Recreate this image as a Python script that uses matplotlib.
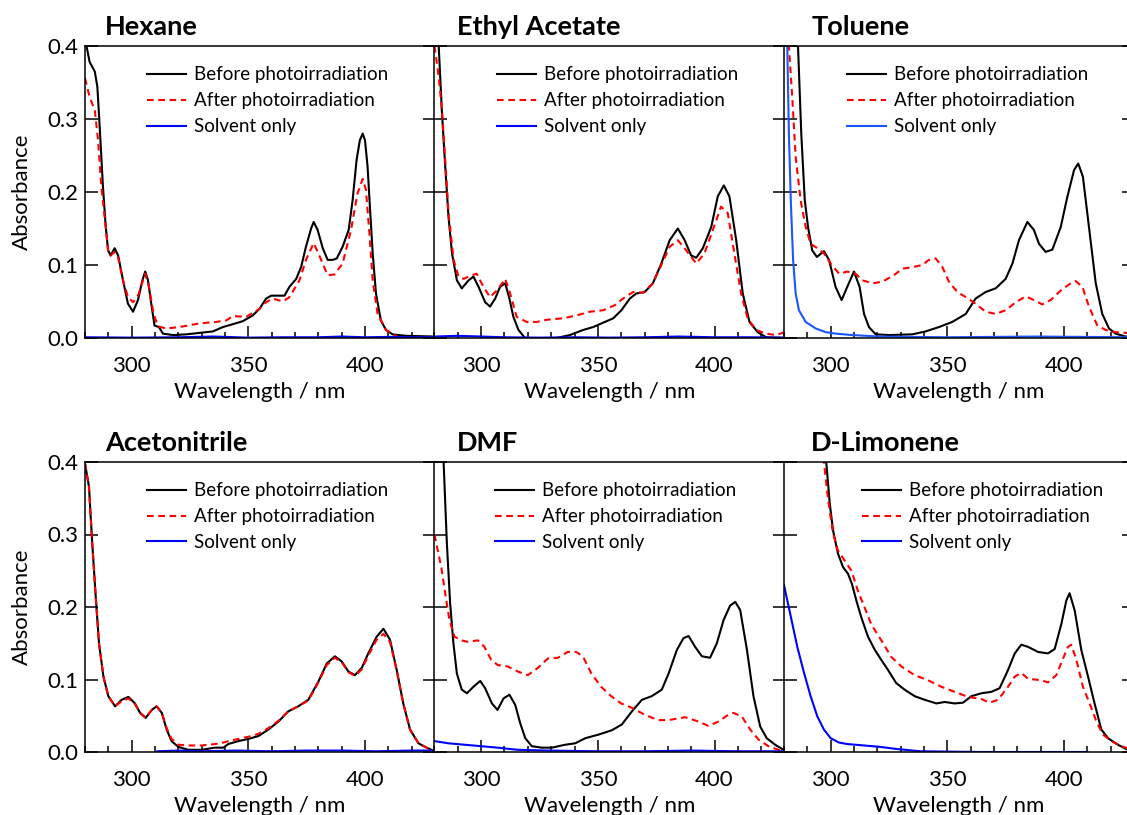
import matplotlib
matplotlib.use("Agg")
import matplotlib.pyplot as plt
from matplotlib.ticker import MultipleLocator

plt.rcParams['font.family'] = ['Lato', 'DejaVu Sans']

# ---- data (wavelength nm, absorbance) ----
hexane_before_nm = [280, 282, 284.2, 285.3, 286.3, 287.7, 288.9, 289.9, 291, 292.7, 294.2, 296.3, 298.4, 300.6,
                    302.7, 304.6, 305.8, 307, 308.4, 309.8, 311.7, 313.4, 317.7, 323.4, 329.1, 334.8, 339.1, 343.4,
                    347.6, 351.9, 354.8, 357.6, 359.8, 362.6, 365.5, 367.6, 370.5, 372.6, 374.7, 376.9, 378, 379.7,
                    381.9, 384, 386.2, 387.9, 390.4, 393, 394.7, 396.4, 397.8, 399, 400, 401.1, 402.1, 403.3, 404.7,
                    406.8, 409, 411.8, 417.5, 430]
hexane_before_abs = [0.41, 0.378, 0.365, 0.344, 0.289, 0.207, 0.152, 0.120, 0.113, 0.123, 0.113, 0.079, 0.047, 0.036,
                     0.052, 0.079, 0.091, 0.079, 0.047, 0.017, 0.015, 0.006, 0.004, 0.005, 0.007, 0.009, 0.015, 0.019,
                     0.023, 0.031, 0.040, 0.054, 0.058, 0.058, 0.058, 0.070, 0.081, 0.097, 0.125, 0.150, 0.159, 0.148,
                     0.123, 0.107, 0.107, 0.109, 0.125, 0.148, 0.189, 0.244, 0.271, 0.280, 0.271, 0.235, 0.180, 0.116,
                     0.061, 0.024, 0.011, 0.005, 0.003, 0.002]
hexane_after_nm = [280, 282, 284.2, 285.6, 287, 288.9, 289.9, 291, 292.7, 294.2, 296.3, 298.4, 300.6, 302.7, 305.8,
                   307.4, 309.4, 311.3, 314.8, 320.5, 329.1, 336.2, 340.5, 343.4, 349.1, 354.8, 357.6, 360.5, 364.8,
                   367.6, 371.9, 374.7, 378, 380.4, 384, 386.9, 390.4, 394, 396.8, 399, 400.4, 401.9, 403.3, 405.4,
                   409, 414.7, 430]
hexane_after_abs = [0.356, 0.330, 0.312, 0.271, 0.207, 0.152, 0.120, 0.113, 0.118, 0.110, 0.079, 0.056, 0.049, 0.058,
                    0.088, 0.070, 0.033, 0.016, 0.013, 0.015, 0.020, 0.022, 0.024, 0.030, 0.029, 0.040, 0.049, 0.054,
                    0.050, 0.056, 0.079, 0.107, 0.130, 0.113, 0.086, 0.087, 0.102, 0.148, 0.198, 0.218, 0.203, 0.143,
                    0.079, 0.033, 0.011, 0.0, 0.0]
hexane_solvent_nm = [280, 300, 320, 335, 350, 365, 380, 390, 400, 410, 420, 430]
hexane_solvent_abs = [0.001, 0.0005, 0.001, 0.002, 0.0005, 0.001, 0.001, 0.002, 0.001, 0.0015, 0.001, 0.001]

ethyl_before_nm = [280, 281.8, 283.2, 284.6, 286, 287.5, 289.6, 291.7, 294.6, 296.7, 298.9, 301.7, 303.8, 306,
                   308.1, 310.3, 312.1, 313.8, 316, 318.8, 323.8, 332.3, 338, 343.7, 348, 352.3, 356.6, 360.1, 363.7,
                   366.5, 370.1, 373.6, 377.2, 380.8, 384.3, 387.2, 390, 392.2, 395, 398.6, 401.4, 404, 406.4, 409.3,
                   412.1, 415, 418.5, 422.1, 430]
ethyl_before_abs = [0.60, 0.400, 0.308, 0.235, 0.166, 0.116, 0.079, 0.068, 0.079, 0.084, 0.070, 0.049, 0.043, 0.054,
                    0.070, 0.075, 0.054, 0.029, 0.011, 0.0, -0.002, 0.0, 0.004, 0.011, 0.015, 0.021, 0.027, 0.038,
                    0.054, 0.061, 0.063, 0.075, 0.102, 0.134, 0.150, 0.134, 0.113, 0.110, 0.123, 0.152, 0.194, 0.209,
                    0.194, 0.134, 0.061, 0.022, 0.008, 0.001, 0.0]
ethyl_after_nm = [280, 281.8, 283.2, 284.6, 286, 288.2, 290.3, 292.5, 296, 298.1, 301, 303.8, 306.7, 310.3, 312.4,
                  315.2, 319.5, 323.8, 328.1, 335.2, 340.9, 346.6, 352.3, 357.3, 360.8, 365.1, 369.4, 373.6, 377.2,
                  380.8, 384.3, 387.9, 392.2, 395.7, 399.3, 402.8, 405.7, 408.5, 411.4, 414.2, 417.8, 422.1, 426.4,
                  430]
ethyl_after_abs = [0.40, 0.358, 0.312, 0.244, 0.171, 0.107, 0.084, 0.081, 0.086, 0.088, 0.070, 0.056, 0.065, 0.081,
                   0.061, 0.029, 0.022, 0.022, 0.025, 0.027, 0.031, 0.036, 0.038, 0.045, 0.054, 0.063, 0.062, 0.075,
                   0.100, 0.125, 0.134, 0.120, 0.102, 0.116, 0.148, 0.180, 0.171, 0.116, 0.061, 0.027, 0.011, 0.006,
                   0.004, 0.008]
ethyl_solvent_nm = [280, 290, 300, 310, 325, 340, 355, 370, 385, 400, 415, 430]
ethyl_solvent_abs = [0.002, 0.003, 0.002, 0.001, 0.0005, 0.001, 0.0005, 0.001, 0.002, 0.001, 0.001, 0.0005]

toluene_before_nm = [284, 286, 287.4, 288.9, 290.3, 292.1, 294.1, 297.1, 299.3, 302.1, 304.7, 307.1, 310, 312.4,
                     314.3, 316.4, 319.3, 325, 335, 340.7, 346.4, 352.1, 357.9, 362.1, 366.4, 370.7, 375, 377.9,
                     380.7, 384.3, 387.1, 389.3, 392.1, 395, 398.6, 401.4, 404.3, 406.1, 408.1, 410.7, 413.6, 416.4,
                     419.3, 422.1, 426.4, 430]
toluene_before_abs = [0.60, 0.400, 0.280, 0.189, 0.152, 0.120, 0.111, 0.119, 0.107, 0.070, 0.052, 0.070, 0.091,
                      0.070, 0.033, 0.015, 0.005, 0.004, 0.005, 0.009, 0.015, 0.022, 0.033, 0.054, 0.063, 0.068,
                      0.081, 0.102, 0.134, 0.159, 0.148, 0.129, 0.118, 0.121, 0.152, 0.193, 0.230, 0.239, 0.221,
                      0.152, 0.075, 0.033, 0.013, 0.006, 0.002, 0.001]
toluene_after_nm = [281, 282.1, 283.6, 285, 287.1, 289.3, 291.4, 294.3, 297.1, 300, 303.6, 307.1, 310.7, 313.6,
                    317.9, 322.1, 327.1, 330.7, 335, 339.3, 342.1, 345, 347.9, 350.7, 354.3, 357.9, 362.1, 366.4,
                    370.7, 375, 379.3, 383.6, 387.1, 390.7, 394.3, 398.6, 402.9, 405, 407.9, 410.7, 414.3, 417.9,
                    422.1, 426.6, 430]
toluene_after_abs = [0.55, 0.400, 0.326, 0.248, 0.189, 0.152, 0.129, 0.123, 0.116, 0.102, 0.088, 0.091, 0.088,
                     0.079, 0.075, 0.077, 0.086, 0.095, 0.097, 0.100, 0.107, 0.109, 0.097, 0.077, 0.063, 0.056,
                     0.047, 0.036, 0.033, 0.038, 0.049, 0.057, 0.052, 0.046, 0.052, 0.065, 0.075, 0.078, 0.070,
                     0.043, 0.017, 0.011, 0.008, 0.007, 0.007]
toluene_solvent_nm = [280.5, 281.4, 282.1, 282.9, 283.9, 285, 286.4, 289.3, 293.6, 297.9, 302.1, 309.3, 320.7,
                      349.3, 388, 430]
toluene_solvent_abs = [0.60, 0.400, 0.280, 0.189, 0.107, 0.061, 0.038, 0.022, 0.013, 0.008, 0.006, 0.004, 0.002,
                       0.001, 0.002, 0.001]

acn_before_nm = [280, 281.7, 283.1, 284.6, 286, 287.9, 290, 292.9, 295.7, 298.6, 301.4, 303.6, 306, 308.6, 310.7,
                 312.9, 315, 317.1, 320, 324.3, 330, 335.7, 339.3, 341.4, 345.7, 350, 354.3, 358.6, 362.9, 367.1,
                 371.4, 375.7, 380, 383.6, 387.1, 390, 392.9, 395.7, 398.6, 401.4, 405, 407.9, 410.7, 413.6, 416.4,
                 419.3, 422.9, 426.4, 430]
acn_before_abs = [0.398, 0.366, 0.288, 0.214, 0.150, 0.104, 0.077, 0.063, 0.072, 0.076, 0.067, 0.054, 0.047, 0.058,
                  0.063, 0.054, 0.031, 0.015, 0.007, 0.003, 0.003, 0.006, 0.006, 0.011, 0.015, 0.018, 0.022, 0.031,
                  0.042, 0.056, 0.063, 0.072, 0.097, 0.122, 0.132, 0.125, 0.111, 0.106, 0.116, 0.136, 0.159, 0.170,
                  0.155, 0.113, 0.067, 0.031, 0.012, 0.006, 0.001]
acn_after_nm = [280, 281.7, 283.1, 284.6, 286, 287.9, 290, 292.9, 295.7, 298.6, 301.4, 303.6, 306, 308.6, 310.7,
                312.9, 315, 317.1, 320, 324.3, 330, 335.7, 339.3, 341.4, 345.7, 350, 354.3, 358.6, 362.9, 367.1,
                371.4, 375.7, 380, 383.6, 387.1, 390, 392.9, 395.7, 398.6, 401.4, 405, 407.9, 410.7, 413.6, 416.4,
                419.3, 422.9, 426.4, 430]
acn_after_abs = [0.398, 0.366, 0.288, 0.214, 0.150, 0.104, 0.077, 0.063, 0.070, 0.074, 0.066, 0.054, 0.047, 0.058,
                 0.063, 0.054, 0.033, 0.018, 0.010, 0.009, 0.009, 0.011, 0.013, 0.015, 0.018, 0.021, 0.025, 0.033,
                 0.043, 0.056, 0.063, 0.071, 0.096, 0.120, 0.130, 0.124, 0.110, 0.105, 0.114, 0.133, 0.155, 0.163,
                 0.152, 0.112, 0.067, 0.031, 0.012, 0.006, 0.001]
acn_solvent_nm = [311, 320, 330, 345, 360, 375, 390, 405, 420, 430]
acn_solvent_abs = [0.001, 0.002, 0.001, 0.002, 0.001, 0.002, 0.002, 0.001, 0.002, 0.002]

dmf_before_nm = [283, 283.9, 285.3, 286.7, 288.1, 289.6, 291.7, 293.9, 296.7, 299.6, 301.7, 304.6, 307, 309.6,
                 312.1, 314.6, 316.7, 318.9, 321.7, 326, 330.3, 336, 340.3, 344.6, 350.3, 356, 360.3, 364.6, 368.9,
                 373.1, 377.4, 380.3, 383.9, 386.7, 388.9, 391.7, 394.6, 398.1, 401, 403.9, 406.7, 408.9, 411,
                 413.9, 416.7, 419.6, 422.4, 426, 429.6]
dmf_before_abs = [0.50, 0.400, 0.288, 0.205, 0.150, 0.108, 0.086, 0.081, 0.090, 0.098, 0.088, 0.067, 0.058, 0.074,
                  0.079, 0.065, 0.040, 0.019, 0.008, 0.006, 0.006, 0.010, 0.012, 0.019, 0.024, 0.030, 0.038, 0.056,
                  0.072, 0.077, 0.086, 0.108, 0.141, 0.157, 0.160, 0.145, 0.132, 0.130, 0.150, 0.182, 0.202, 0.207,
                  0.196, 0.141, 0.077, 0.035, 0.019, 0.010, 0.003]
dmf_after_nm = [280, 281.4, 282.9, 285, 286.4, 288.6, 291.4, 294.3, 298.6, 301.4, 304.3, 307.1, 311.4, 315.7, 320,
                324.3, 328.6, 332.9, 337.1, 340.7, 343.6, 347.1, 351.4, 355.7, 360, 364.6, 370.3, 376, 380.3,
                387.4, 393.1, 397.4, 401.7, 405.3, 408.1, 411.7, 415.3, 418.9, 423.1, 427.4, 430]
dmf_after_abs = [0.300, 0.278, 0.255, 0.210, 0.182, 0.159, 0.154, 0.152, 0.154, 0.145, 0.127, 0.120, 0.118, 0.111,
                 0.106, 0.116, 0.129, 0.130, 0.138, 0.138, 0.132, 0.109, 0.090, 0.077, 0.067, 0.061, 0.051, 0.044,
                 0.044, 0.048, 0.042, 0.036, 0.042, 0.050, 0.054, 0.049, 0.031, 0.017, 0.008, 0.003, 0.0]
dmf_solvent_nm = [280, 286, 293, 300, 307, 315.7, 328.6, 350, 370, 390, 410, 430]
dmf_solvent_abs = [0.015, 0.012, 0.010, 0.008, 0.006, 0.003, 0.002, 0.001, 0.001, 0.002, 0.001, 0.001]

limonene_before_nm = [297, 298.1, 299.6, 301, 303.1, 305.3, 307.4, 309.1, 311, 313.1, 316, 318.9, 321.7, 324.6,
                      328.1, 331.7, 336, 340.3, 345.3, 348.9, 353.1, 356.7, 360.3, 364.6, 368.9, 372.4, 376, 378.9,
                      381.7, 384.6, 388.9, 393.1, 396, 398.9, 401, 402.4, 404.6, 407.4, 410.3, 413.1, 416, 418.9,
                      423.1, 427.4, 430]
limonene_before_abs = [0.50, 0.400, 0.343, 0.306, 0.274, 0.255, 0.246, 0.232, 0.209, 0.186, 0.159, 0.141, 0.127,
                       0.113, 0.095, 0.086, 0.077, 0.072, 0.067, 0.069, 0.067, 0.068, 0.077, 0.081, 0.083, 0.088,
                       0.113, 0.136, 0.148, 0.145, 0.138, 0.136, 0.142, 0.177, 0.209, 0.219, 0.195, 0.141, 0.104,
                       0.067, 0.031, 0.019, 0.010, 0.003, 0.001]
limonene_after_nm = [296, 297.1, 298.9, 301, 303.1, 306, 308.9, 311.7, 314.6, 317.4, 321.7, 326, 330.3, 336, 341.7,
                     347.4, 353.1, 358.9, 364.6, 368.1, 371.7, 376, 378.9, 381.7, 384.6, 390.3, 393.1, 396.7, 399.6,
                     401.7, 403.1, 405.3, 408.1, 411, 413.9, 416.7, 420.3, 424.6, 427.6, 430]
limonene_after_abs = [0.50, 0.400, 0.348, 0.302, 0.278, 0.264, 0.250, 0.222, 0.199, 0.176, 0.154, 0.131, 0.118,
                      0.106, 0.099, 0.090, 0.083, 0.076, 0.073, 0.068, 0.072, 0.090, 0.104, 0.109, 0.101, 0.099,
                      0.096, 0.106, 0.129, 0.145, 0.148, 0.127, 0.090, 0.067, 0.042, 0.024, 0.015, 0.008, 0.005,
                      0.004]
limonene_solvent_nm = [280, 282.9, 285.7, 288.6, 291.4, 294.3, 297.1, 300, 303.6, 307.1, 314.3, 321.4, 328.6, 338.6,
                       364, 410]
limonene_solvent_abs = [0.230, 0.187, 0.145, 0.109, 0.077, 0.049, 0.031, 0.019, 0.013, 0.011, 0.009, 0.007, 0.004,
                        0.001, 0.0, 0.0]

titles = ['Hexane', 'Ethyl Acetate', 'Toluene', 'Acetonitrile', 'DMF', 'D-Limonene']
series_labels = ['Before photoirradiation', 'After photoirradiation', 'Solvent only']
panels = [
    (hexane_before_nm, hexane_before_abs, hexane_after_nm, hexane_after_abs, hexane_solvent_nm, hexane_solvent_abs),
    (ethyl_before_nm, ethyl_before_abs, ethyl_after_nm, ethyl_after_abs, ethyl_solvent_nm, ethyl_solvent_abs),
    (toluene_before_nm, toluene_before_abs, toluene_after_nm, toluene_after_abs, toluene_solvent_nm, toluene_solvent_abs),
    (acn_before_nm, acn_before_abs, acn_after_nm, acn_after_abs, acn_solvent_nm, acn_solvent_abs),
    (dmf_before_nm, dmf_before_abs, dmf_after_nm, dmf_after_abs, dmf_solvent_nm, dmf_solvent_abs),
    (limonene_before_nm, limonene_before_abs, limonene_after_nm, limonene_after_abs, limonene_solvent_nm, limonene_solvent_abs),
]
solvent_colors = ['blue', 'blue', '#1a55ff', 'blue', 'blue', 'blue']

fig = plt.figure(figsize=(11.27, 8.15), dpi=100)

col_left = [85 / 1127, 434.5 / 1127, 784 / 1127]
col_w = 350 / 1127
row_bottom = [477 / 815, 63 / 815]
row_h = [292 / 815, 290 / 815]
legend_x = [0.177, 0.179, 0.179, 0.176, 0.174, 0.222]
title_x = [0.058, 0.063, 0.080, 0.058, 0.063, 0.077]

for i, (bx, by, ax_, ay, sx, sy) in enumerate(panels):
    r, c = divmod(i, 3)
    ax = fig.add_axes([col_left[c], row_bottom[r], col_w, row_h[r]])
    ax.plot(bx, by, color='black', lw=1.5, solid_joinstyle='round', label=series_labels[0])
    ax.plot(ax_, ay, color='red', lw=1.5, ls=(0, (3.2, 2.2)), label=series_labels[1])
    ax.plot(sx, sy, color=solvent_colors[i], lw=1.5, solid_joinstyle='round', label=series_labels[2])
    ax.set_xlim(280, 430)
    ax.set_ylim(0, 0.4)
    ax.xaxis.set_major_locator(MultipleLocator(50))
    ax.xaxis.set_minor_locator(MultipleLocator(10))
    ax.yaxis.set_major_locator(MultipleLocator(0.1))
    ax.tick_params(axis='both', which='both', direction='in', labelsize=16, width=1.1)
    ax.tick_params(axis='x', which='major', length=9, pad=13)
    ax.tick_params(axis='x', which='minor', length=4.3)
    ax.tick_params(axis='y', which='major', length=9, right=True, pad=5)
    for sp in ax.spines.values():
        sp.set_linewidth(1.1)
    ax.set_xlabel('Wavelength / nm', fontsize=16, labelpad=4)
    if c == 0:
        ax.yaxis.set_major_formatter(plt.FormatStrFormatter('%.1f'))
        ax.set_ylabel('Absorbance', fontsize=16, labelpad=11)
    else:
        ax.tick_params(axis='y', labelleft=False)
    ax.text(title_x[i], 1.065, titles[i], transform=ax.transAxes, fontsize=19.5, fontweight='bold',
            ha='left', va='center')
    ax.legend(loc='upper left', bbox_to_anchor=(legend_x[i], 0.93), frameon=False, fontsize=13.5,
              handlelength=2.08, handletextpad=0.43, labelspacing=0.47, borderpad=0, borderaxespad=0)

fig.savefig('out.png', dpi=100)
